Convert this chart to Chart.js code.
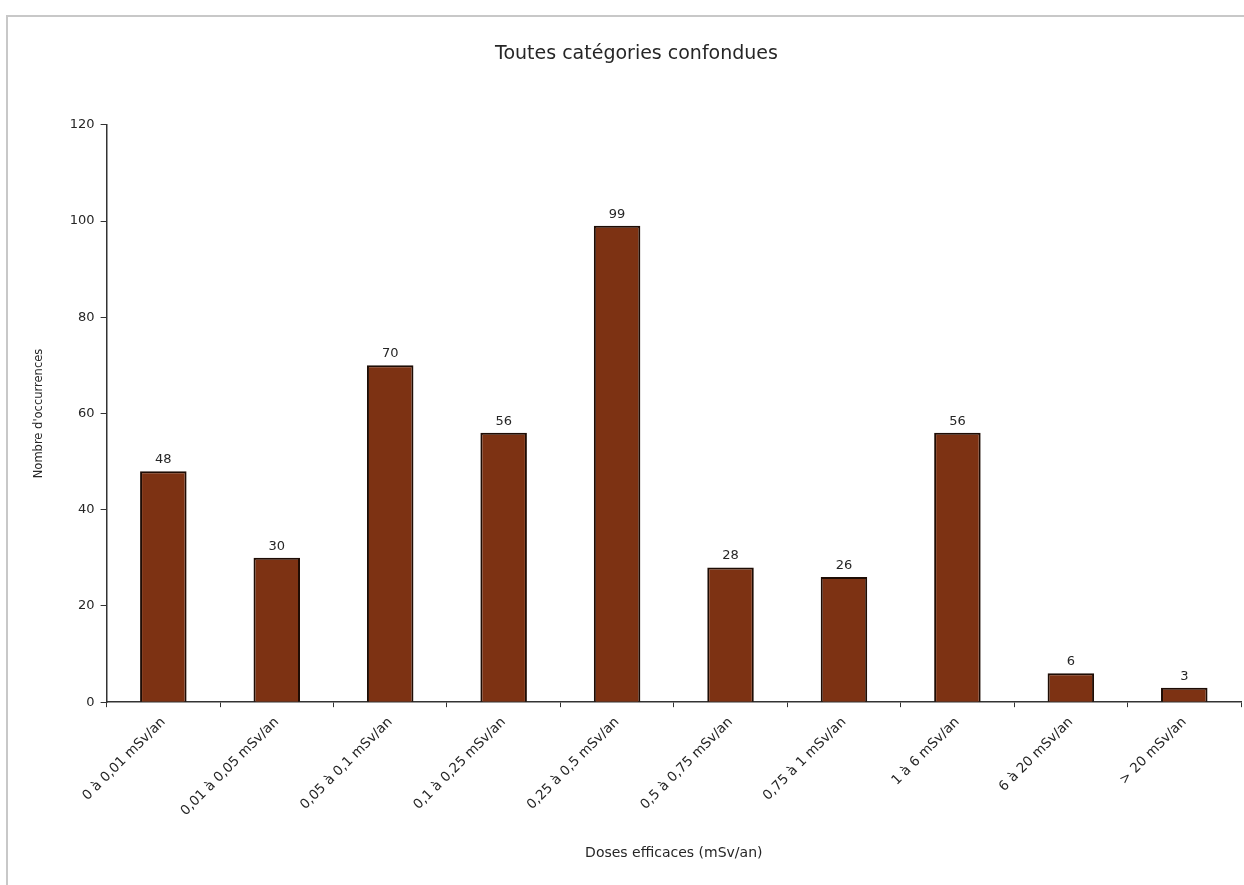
<!DOCTYPE html>
<html lang="fr">
<head>
    <meta charset="UTF-8">
    <title>Toutes catégories confondues</title>
    <script src="https://cdn.jsdelivr.net/npm/chart.js"></script>
    <style>
        body {
            margin: 0;
            background-color: #fff;
            overflow: hidden;
        }

        .cadre {
            position: absolute;
            left: 6px;
            top: 15px;
            width: 1300px;
            height: 1000px;
            border: 2px solid #c8c8c8;
        }

        #graphique {
            position: absolute;
            left: 0;
            top: 0;
        }
    </style>
</head>
<body>
    <div class="cadre"></div>
    <canvas id="graphique" width="1244" height="885"></canvas>

    <script>
        // Données
        var categories = [
            '0 à 0,01 mSv/an',
            '0,01 à 0,05 mSv/an',
            '0,05 à 0,1 mSv/an',
            '0,1 à 0,25 mSv/an',
            '0,25 à 0,5 mSv/an',
            '0,5 à 0,75 mSv/an',
            '0,75 à 1 mSv/an',
            '1 à 6 mSv/an',
            '6 à 20 mSv/an',
            '> 20 mSv/an'
        ];
        var occurrences = [48, 30, 70, 56, 99, 28, 26, 56, 6, 3];
        var yTicks = [0, 20, 40, 60, 80, 100, 120];

        var police = 'DejaVu Sans, Verdana, sans-serif';
        var texte = '#262626';

        // Étiquettes de valeurs au-dessus des barres
        var etiquettes = {
            id: 'etiquettes',
            afterDatasetsDraw: function(chart) {
                var ctx = chart.ctx;
                var meta = chart.getDatasetMeta(0);
                ctx.save();
                ctx.font = '13px ' + police;
                ctx.fillStyle = texte;
                ctx.textAlign = 'center';
                ctx.textBaseline = 'bottom';
                meta.data.forEach(function(bar, i) {
                    ctx.fillText(occurrences[i], bar.x, bar.y - 5);
                });
                ctx.restore();
            }
        };

        new Chart(document.getElementById('graphique').getContext('2d'), {
            type: 'bar',
            data: {
                labels: categories,
                datasets: [{
                    label: "Nombre d'occurrences",
                    data: occurrences,
                    backgroundColor: '#7d3213',
                    borderColor: '#1e0c04',
                    borderWidth: 2,
                    barPercentage: 0.82,
                    categoryPercentage: 0.5
                }]
            },
            options: {
                responsive: false,
                devicePixelRatio: 1,
                animation: false,
                layout: {
                    padding: { left: 32, right: 3, top: 0, bottom: 23 }
                },
                plugins: {
                    legend: { display: false },
                    tooltip: { enabled: false },
                    title: {
                        display: true,
                        text: 'Toutes catégories confondues',
                        color: texte,
                        font: { family: police, size: 19, weight: 'normal' },
                        padding: { top: 43, bottom: 59 }
                    }
                },
                scales: {
                    x: {
                        grid: {
                            offset: true,
                            drawOnChartArea: false,
                            tickLength: 5,
                            color: '#333'
                        },
                        border: { color: '#333', width: 1.5 },
                        ticks: {
                            minRotation: 45,
                            maxRotation: 45,
                            padding: 7,
                            color: texte,
                            font: { family: police, size: 13.5 }
                        },
                        title: {
                            display: true,
                            text: 'Doses efficaces (mSv/an)',
                            color: texte,
                            font: { family: police, size: 14 },
                            padding: { top: 19, bottom: 0 }
                        }
                    },
                    y: {
                        min: 0,
                        max: 120,
                        afterBuildTicks: function(axis) {
                            axis.ticks = yTicks.map(function(v) { return { value: v }; });
                        },
                        grid: {
                            drawOnChartArea: false,
                            tickLength: 6,
                            color: '#333'
                        },
                        border: { color: '#333', width: 1.5 },
                        ticks: {
                            padding: 6,
                            color: texte,
                            font: { family: police, size: 13 }
                        },
                        title: {
                            display: true,
                            text: "Nombre d'occurrences",
                            color: texte,
                            font: { family: police, size: 11.5 },
                            padding: { top: 0, bottom: 18 }
                        }
                    }
                }
            },
            plugins: [etiquettes]
        });
    </script>
</body>
</html>
